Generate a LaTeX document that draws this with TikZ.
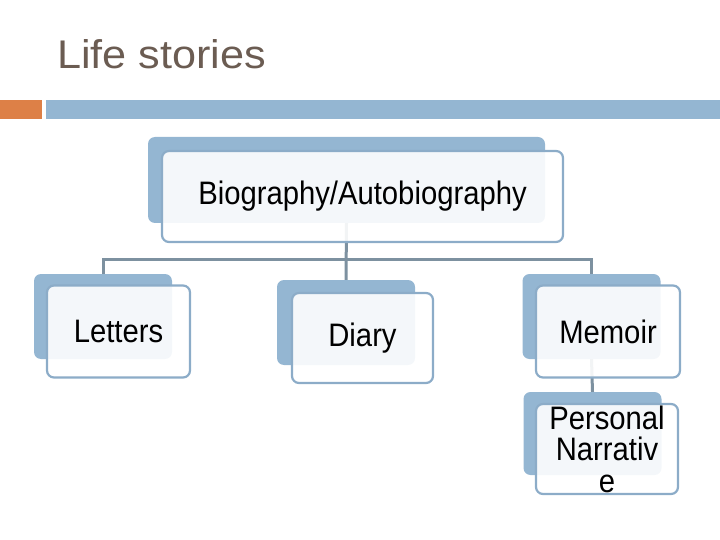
\documentclass[tikz,border=0pt]{standalone}
\usepackage{fontspec}
\setmainfont{Liberation Sans}
\newfontfamily\boxfont[FakeStretch=0.9]{Liberation Sans}
\newfontfamily\headfont[FakeStretch=1.08]{Liberation Sans}
\usepackage{tikz}
\usetikzlibrary{positioning, calc}
\usepackage{xcolor}
\definecolor{backblue}{RGB}{148,182,210}
\definecolor{edgeblue}{RGB}{140,172,200}
\definecolor{linkgray}{RGB}{125,145,160}
\definecolor{barorange}{RGB}{221,128,71}
\definecolor{titlebrown}{RGB}{107,92,82}
\tikzset{
  backbox/.style={
    rectangle, rounded corners=7pt, draw=none, fill=backblue,
    minimum width=138pt, minimum height=85pt, inner sep=0pt
  },
  frontbox/.style={
    rectangle, rounded corners=7pt, draw=edgeblue, line width=2.2pt,
    fill=white, fill opacity=0.9, text opacity=1,
    minimum width=143pt, minimum height=92pt, inner sep=0pt,
    align=center, font=\boxfont\fontsize{32.5}{31.5}\selectfont
  },
  link/.style={draw=linkgray, line width=3pt}
}

\begin{document}
\begin{tikzpicture}[x=1pt, y=-1pt]
  \useasboundingbox (0,0) rectangle (720,540);
  \node[anchor=base west, inner sep=0pt, text=titlebrown,
        font=\headfont\fontsize{40}{46}\selectfont] (title) at (57,69) {Life stories};
  \fill[barorange] (0,100) rectangle (42,119);
  \fill[backblue] (46,100) rectangle (720,119);

  \node[backbox, minimum width=397pt, minimum height=86pt] (bioB) at (346.5,180) {};
  \node[backbox] (letB) at (103,316.5) {};
  \node[backbox] (diaB) at (346,322.5) {};
  \node[backbox] (memB) at (591.5,316.5) {};
  \node[backbox, minimum height=83pt] (perB) at (592.5,433.5) {};

  \coordinate (hub) at (bioB.south |- 0,259);
  \draw[link] (bioB.south) -- (diaB.north);
  \draw[link] (letB.north) |- (hub) -| (memB.north);
  \draw[link] (memB.south) -- (perB.north);

  \node[frontbox, minimum width=401pt, minimum height=91pt] (bio) at (362.5,196.5)
    {Biography/Autobiography};
  \node[frontbox] (let) at (118.5,331.5) {Letters};
  \node[frontbox, minimum width=141pt, minimum height=90pt] (dia) at (362.5,338) {Diary};
  \node[frontbox, minimum width=144pt] (mem) at (608,331.5) {Memoir};
  \node[frontbox, minimum width=142pt, minimum height=90pt] (per) at (607,449)
    {Personal\\Narrativ\\e};
\end{tikzpicture}
\end{document}
